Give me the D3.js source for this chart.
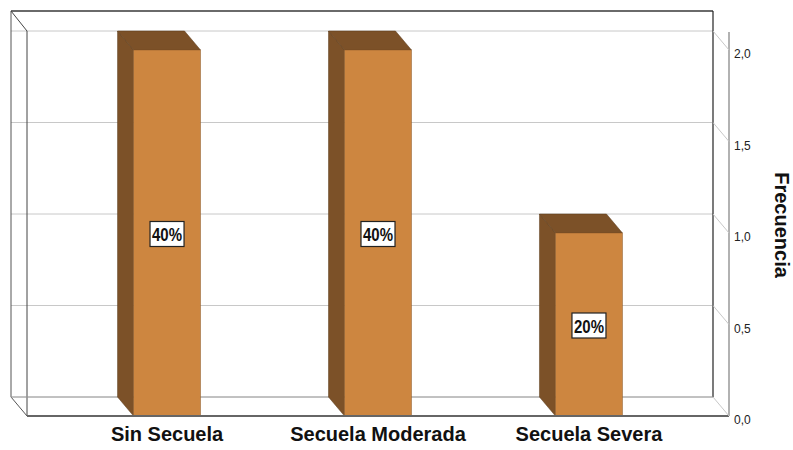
<!DOCTYPE html>
<html>
<head>
<meta charset="utf-8">
<script src="https://cdn.jsdelivr.net/npm/d3@7"></script>
<style>
  html, body { margin: 0; padding: 0; background: #fff; }
  svg { display: block; font-family: "Liberation Sans", Arial, sans-serif; }
</style>
</head>
<body>
<svg id="chart" width="793" height="450"></svg>
<script>
// Frequency of sequelae
const categories = ["Sin Secuela", "Secuela Moderada", "Secuela Severa"];
const frequencies = [2, 2, 1];
const percentLabels = ["40%", "40%", "20%"];
const tickValues = [0, 0.5, 1, 1.5, 2];
const tickLabels = ["0,0", "0,5", "1,0", "1,5", "2,0"];
const axisTitle = "Frecuencia";

const svg = d3.select("#chart");

// 3D box geometry: back wall plus a depth offset toward the viewer
const back = { left: 11, right: 713, top: 11, bottom: 397 };
const depth = { dx: 16, dy: 19 };

const y = d3.scaleLinear().domain([0, 2]).range([397, 31]);
const x = d3.scaleBand()
  .domain(categories)
  .range([back.left, back.right])
  .paddingInner(0.6825)
  .paddingOuter(0.505);

const colFront = "#cd8640";
const colSide = "#7c5128";
const colTop = "#7c5128";

// back wall gridlines
svg.append("g").selectAll("line")
  .data(tickValues)
  .join("line")
  .attr("x1", back.left).attr("x2", back.right)
  .attr("y1", d => y(d)).attr("y2", d => y(d))
  .attr("stroke", "#c8c8c8").attr("stroke-width", 1);

// box frame
const frame = svg.append("g").attr("fill", "none");
frame.append("line").attr("x1", back.left).attr("x2", back.right)
  .attr("y1", back.top).attr("y2", back.top).attr("stroke", "#6a6a6a").attr("stroke-width", 2);
frame.append("line").attr("x1", back.right).attr("x2", back.right)
  .attr("y1", back.top).attr("y2", back.bottom).attr("stroke", "#222").attr("stroke-width", 1.2);
frame.append("line").attr("x1", back.left).attr("x2", back.left)
  .attr("y1", back.top).attr("y2", back.bottom).attr("stroke", "#555").attr("stroke-width", 1);
frame.append("line").attr("x1", back.left + depth.dx).attr("x2", back.left + depth.dx)
  .attr("y1", y(2)).attr("y2", back.bottom + depth.dy).attr("stroke", "#444").attr("stroke-width", 1);
frame.append("line").attr("x1", back.left).attr("y1", back.top)
  .attr("x2", back.left + depth.dx).attr("y2", y(2)).attr("stroke", "#444").attr("stroke-width", 1);
frame.append("line").attr("x1", back.left).attr("y1", back.bottom)
  .attr("x2", back.left + depth.dx).attr("y2", back.bottom + depth.dy).attr("stroke", "#555").attr("stroke-width", 1);
frame.append("line").attr("x1", back.left).attr("x2", back.right)
  .attr("y1", back.bottom).attr("y2", back.bottom).attr("stroke", "#a0a0a0").attr("stroke-width", 1);

// bars as 3D blocks
const bars = svg.append("g").selectAll("g").data(categories).join("g");
bars.each(function (c, i) {
  const g = d3.select(this);
  const v = frequencies[i];
  const xb = x(c), w = x.bandwidth();
  const yt = y(v), y0 = y(0);
  const { dx, dy } = depth;
  g.append("polygon")
    .attr("points", [[xb, yt], [xb + dx, yt + dy], [xb + dx, y0 + dy], [xb, y0]].join(" "))
    .attr("fill", colSide).attr("stroke", "#5a3a1a").attr("stroke-width", 0.5);
  g.append("polygon")
    .attr("points", [[xb, yt], [xb + w, yt], [xb + w + dx, yt + dy], [xb + dx, yt + dy]].join(" "))
    .attr("fill", colTop).attr("stroke", "#5a3a1a").attr("stroke-width", 0.5);
  g.append("rect")
    .attr("x", xb + dx).attr("y", yt + dy)
    .attr("width", w).attr("height", y0 - yt)
    .attr("fill", colFront).attr("stroke", "#8a5a2a").attr("stroke-width", 0.5);

  // percentage label in the middle of the front face
  const cx = xb + dx + w / 2, cy = yt + dy + (y0 - yt) / 2 + 1;
  const lbl = g.append("g");
  lbl.append("rect")
    .attr("x", cx - 17).attr("y", cy - 12.5).attr("width", 34).attr("height", 25)
    .attr("fill", "#fff").attr("stroke", "#222").attr("stroke-width", 1.2);
  lbl.append("text")
    .attr("x", cx).attr("y", cy + 7)
    .attr("text-anchor", "middle")
    .attr("font-size", 18).attr("font-weight", "bold").attr("fill", "#111")
    .attr("textLength", 30).attr("lengthAdjust", "spacingAndGlyphs")
    .text(percentLabels[i]);
});

// front floor edge
svg.append("line")
  .attr("x1", back.left + depth.dx).attr("x2", back.right + depth.dx)
  .attr("y1", back.bottom + depth.dy).attr("y2", back.bottom + depth.dy)
  .attr("stroke", "#666").attr("stroke-width", 2);

// right value axis
const axisX = back.right + depth.dx;
svg.append("line")
  .attr("x1", axisX).attr("x2", axisX)
  .attr("y1", y(2) + 1).attr("y2", y(0) + depth.dy)
  .attr("stroke", "#999").attr("stroke-width", 1.5);
const ticks = svg.append("g");
ticks.selectAll("line").data(tickValues).join("line")
  .attr("x1", back.right).attr("y1", d => y(d))
  .attr("x2", axisX).attr("y2", d => y(d) + depth.dy)
  .attr("stroke", "#c8c8c8").attr("stroke-width", 1);
ticks.selectAll("text").data(tickValues).join("text")
  .attr("x", axisX + 5).attr("y", d => y(d) + depth.dy + 8)
  .attr("font-size", 12).attr("fill", "#222")
  .text((d, i) => tickLabels[i]);

// axis title
svg.append("text")
  .attr("transform", `translate(775, 225) rotate(90)`)
  .attr("text-anchor", "middle")
  .attr("font-size", 20).attr("font-weight", "bold").attr("fill", "#111")
  .text(axisTitle);

// category labels
svg.append("g").selectAll("text").data(categories).join("text")
  .attr("x", c => x(c) + depth.dx + x.bandwidth() / 2)
  .attr("y", 441)
  .attr("text-anchor", "middle")
  .attr("font-size", 20).attr("font-weight", "bold").attr("fill", "#111")
  .text(c => c);
</script>
</body>
</html>
